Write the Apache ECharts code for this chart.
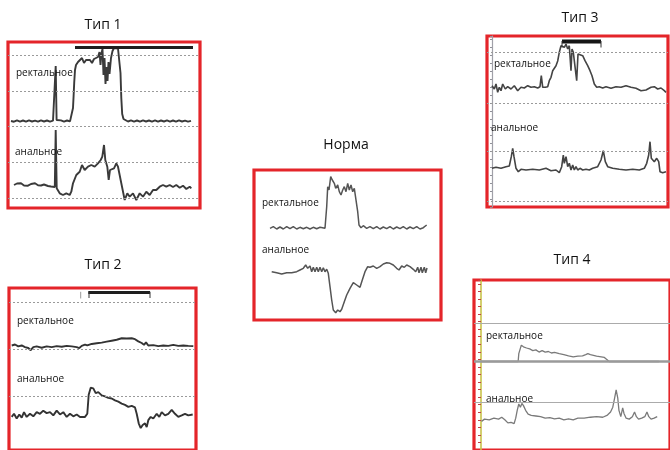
<!DOCTYPE html>
<html>
<head>
<meta charset="utf-8">
<script src="https://cdn.jsdelivr.net/npm/echarts@6/dist/echarts.min.js"></script>
<style>html,body{margin:0;padding:0;background:#fff}#c{width:670px;height:450px}</style>
</head>
<body>
<div id="c"></div>
<script>
// ---------- panel titles and channel labels ----------
const panelTitles = ['Тип 1', 'Тип 3', 'Норма', 'Тип 2', 'Тип 4'];
const channelNames = ['ректальное', 'анальное'];

// ---------- Тип 1 ----------
const tip1Rectal = [[3,87],[6,86.3],[9,87.6],[12,86.4],[15,87.5],[18,86.3],[21,87.6],[24,86.5],[27,87.4],[30,86.3],[33,87.6],[36,86.5],[39,87.5],[42,86.4],[45,87.3],[47,87],[47.7,142],[48.6,88],[50,86.8],[53,87.6],[56,86.4],[59,87.5],[62,86.6],[64,87.2],[65,100],[65.6,112],[66.2,125],[67,138],[68,143],[70,146],[72,147],[74,150],[76,145],[78,148],[80,146],[82,148],[84,145],[86,149],[88,147],[90,151],[91.5,156],[92.5,143],[93.5,155],[94.5,159],[95.5,133],[96.5,150],[97.5,124],[98.5,141],[99.5,127],[100.5,146],[101.5,134],[103,150],[104.5,157],[106,160],[108,161],[110,159.5],[111.5,158],[112.5,135],[113.3,110],[114.2,94],[115.5,89],[117,87.5],[120,86.5],[123,87.6],[126,86.4],[129,87.5],[132,86.3],[135,87.6],[138,86.5],[141,87.5],[144,86.4],[147,87.6],[150,86.3],[153,87.5],[156,86.5],[159,87.6],[162,86.4],[165,87.5],[168,86.3],[171,87.6],[174,86.5],[177,87.4],[180,86.4],[183,87.2]];
const tip1Anal = [[6,23],[9,24.5],[13,24.7],[16,22.5],[20,22.3],[23,24],[27,24.7],[30,22.8],[33,22.5],[36,23.5],[40,22],[43,21.5],[45,20.3],[46.8,21],[47.7,78],[48.7,19.7],[51.7,14.7],[55,13],[58.3,14.7],[61.7,13],[63.3,16.3],[65,24.7],[68.3,33],[71.7,36.3],[74,43],[76.7,38],[80,41.3],[83.3,43],[86.7,41.3],[90,44.7],[92.7,48],[94.3,51.3],[96,63],[97.3,48],[99.3,41.3],[100.7,28],[102,38],[104,36.3],[106,39.7],[108.3,44.7],[110,41.3],[113.3,24.7],[116.7,8],[119.3,14.7],[121.7,11.3],[125,14.7],[128.3,8],[131.7,14.7],[135,11.3],[138.3,16.3],[141.7,13],[145,18],[148.3,18],[151.7,21.3],[155,23],[158.3,21.3],[161.7,23],[165,21],[168.3,23],[171.7,20.3],[175,22.3],[178.3,19],[181.7,21.3],[183.3,19.7]];
const tip1Levels = [153, 117, 82, 46, 10];
const tip1Bar = [[67,160.5],[185,160.5]];

// ---------- Тип 3 ----------
const tip3Rectal = [[5,121.3],[7.3,118],[9,123],[10.7,114.7],[12.3,119.7],[14,116.3],[15.7,123],[18.3,118],[20.7,120.3],[24,118],[27.3,121.3],[30.7,116.3],[34,119.7],[37.3,119],[40.7,121.3],[44,119.7],[47.3,120.3],[50.7,119],[53,120.3],[54.3,131.3],[55.7,119.7],[58.3,119.7],[60.7,120.3],[62.3,126.3],[64,129.7],[65.7,136.3],[67.3,134.7],[69,141.3],[70.7,146],[72.3,154.7],[74,161.3],[75.7,163],[77.3,159.7],[79,163],[80.7,158],[82.3,161.3],[84,136.3],[85,158],[86.3,154.7],[88.3,154.7],[89.7,126.3],[91,153],[93,154.7],[95.7,151.3],[98,146.3],[100.7,141.3],[103,136.3],[105,131.3],[107.3,123],[109.7,119.7],[112.3,120.3],[115.7,119],[119,120.3],[124,118.7],[129,120.3],[134,119.7],[139,121.3],[144,119.7],[149,118.7],[154,116.3],[159,117],[164,119.7],[167.3,120.3],[170.7,118],[174,119],[177.3,116.3],[179,114.7]];
const tip3Anal = [[5,38.7],[9,39.7],[14,38.7],[19,40.3],[22.3,41],[24.3,50.3],[25.7,58.7],[27,50.3],[29,38.7],[31.3,35.3],[34,37.7],[39,37],[45.7,37.7],[52.3,37],[59,38.7],[64,36.3],[69,37],[72.3,34.3],[74.7,40.3],[76.3,52],[77.3,43.7],[79,50.3],[80.7,40.3],[82.3,43.7],[84,37],[85.7,42],[87.3,37],[89,40.3],[90.7,37],[93,38.7],[95.7,37],[99,37.7],[102.3,37],[105.7,38.7],[110.7,40.3],[114,47],[116.3,56.3],[118.3,45.3],[120.7,40.3],[125.7,38.7],[132.3,37.7],[139,37],[145.7,37.7],[152.3,37],[157.3,38.7],[159.7,43.7],[161.7,52],[163,65.3],[164.3,48.7],[165.7,50.3],[167.3,45.3],[169.7,48.7],[171.7,45.3],[173,35.3],[175.7,34.3],[179,35.3]];
const tip3Levels = [154.7, 104, 56, 6];
const tip3Bar = [[75,165.5],[114,165.5]];

// ---------- Норма ----------
const normRectal = [[16,91.7],[19.3,93.3],[22.7,91],[26,93],[29.3,91],[32.7,93.3],[36,91.3],[39.3,93.3],[42.7,91],[46,92.7],[49.3,91.3],[52.7,92.7],[56,91],[59.3,92.7],[62.7,91.3],[66,92.7],[71,91.7],[72.7,113.3],[73.7,133.3],[75,130],[76.7,143.3],[78.3,140],[80.3,136.7],[81.7,131.7],[83.7,135],[85.3,128.3],[87,125],[88.7,130],[90.3,133.3],[92,128.3],[93.7,136.7],[95.3,130],[97,135],[98.7,128.3],[100.3,131.7],[102,130],[103.7,108.3],[105,95],[107,92.3],[109.3,94.3],[112.7,91.7],[116,93.3],[119.3,91.3],[122.7,93.3],[126,91],[129.3,93],[132.7,91.3],[136,93.3],[139.3,91],[142.7,93],[146,91.3],[149.3,93.3],[152.7,91],[156,93],[159.3,91.3],[162.7,93.3],[166,91],[169.3,92.3],[172.7,95]];
const normAnal = [[17.7,48.3],[22.7,47.3],[27.7,46],[32.7,47.3],[37.7,47.3],[42.7,48.3],[46,50],[49.3,51.7],[51.7,55],[53.7,51.7],[56,54],[57.7,48.3],[59.3,52.7],[61,48.3],[62.7,52.7],[64.3,48.3],[66,52.7],[67.7,48.3],[69.3,52.3],[71,48.3],[72.7,50.7],[74.3,46.7],[76,33.3],[77.7,20],[79.3,10],[81.7,7.3],[83.7,10],[86,8.3],[87.7,10.7],[90.3,18.3],[92.7,25],[96,31.7],[99.3,37.3],[102.7,35],[106,32.7],[108.3,40],[111,48.3],[113.7,53.3],[116,52.7],[119.3,54],[122.7,51.7],[126,53.3],[129.3,56],[132.7,57.3],[136,56.7],[139.3,55],[142.7,51.7],[145,50],[147.7,54],[150.3,52.7],[152.7,55],[156,53.3],[159.3,50.7],[161.7,48.3],[163.7,52.7],[165,47.3],[167,52.7],[168.3,47.3],[170.3,52.7],[171.7,47.3],[173,52]];

// ---------- Тип 2 ----------
const tip2Rectal = [[2.7,109.7],[6,110.7],[9.3,108.7],[12.7,109.7],[16,108],[19.3,107],[21.7,104.7],[24.3,108],[27.7,108.7],[32.7,107.3],[37.7,108.7],[42.7,108],[47.7,109],[52.7,108.3],[57.7,109.3],[62.7,108.7],[67.7,108],[70.3,107],[72.7,109.3],[76,110.7],[78.3,109.7],[82.7,111.3],[87.7,112],[92.7,112.7],[97.7,113.7],[102.7,114.7],[107.7,115.7],[112.7,117.3],[117.7,117],[122.7,117.3],[126,116.3],[129.3,114],[132.7,112.3],[135,110.3],[137,113],[139.3,109.7],[144.3,110],[149.3,109],[154.3,109.7],[159.3,109.3],[164.3,110.3],[169.3,109.3],[174.3,109.7],[179.3,109.3],[184.3,109]];
const tip2Anal = [[2.7,34.7],[5,38],[7.7,33],[10.3,37.3],[12.7,34],[15,39.7],[17.7,34.7],[21,38],[24.3,35.3],[27.7,39.7],[31,38],[34.3,41.3],[37.7,38.7],[41,39.7],[44.3,36.3],[47.7,41.3],[51,37.3],[54.3,39.7],[57.7,34.7],[61,38],[64.3,35.3],[67.7,37.3],[71,34.7],[76,34.7],[78.3,38],[79.7,58],[81.7,65.3],[84.3,64.7],[86.7,59.7],[89.3,60.7],[92.7,57.3],[96,56.3],[99.3,54.7],[102.7,54],[106,52],[109.3,50.7],[112.7,48.7],[116,47.3],[119.3,45.3],[122.7,46.3],[126,44.7],[127.7,38],[129.7,28],[131.7,23],[133.7,26.3],[136,28],[137.7,24],[139.3,31.3],[141.7,34.7],[144.3,33],[147.7,38],[150.3,34.7],[152.7,39.7],[156,36.3],[159.3,38],[162.7,42],[166,38],[169.3,34.7],[172.7,36.3],[176,38],[179.3,36.3],[183.7,37.3]];
const tip2Levels = [155.3, 105.3, 56.3];
const tip2Bar = [[79.3,165.3],[141,165.3]];

// ---------- Тип 4 ----------
const tip4Rectal = [[8,93.7],[20,93.7],[35,93.7],[47.3,93.7],[48,102],[50.7,111],[53,109.3],[56.3,108],[59.7,107],[63,105.3],[66.3,106],[69.7,103.7],[73,105.3],[76.3,103.7],[79.7,104.3],[83,102.7],[86.3,103.3],[91.3,102],[96.3,101],[101.3,99.7],[106.3,98.7],[111.3,99.3],[116.3,99.7],[119.7,101],[122,102],[124.7,101],[128,100.3],[131.3,99.3],[136.3,98.7],[139.7,98],[142,96],[144.7,93.7],[170,93.7],[198,93.7]];
const tip4Anal = [[8,30.3],[11.3,32.7],[16.3,32],[21.3,33.7],[26.3,32.7],[29.7,34.7],[33,32],[36.3,28.7],[39.7,29.3],[43,28],[44.7,33.7],[46.3,42],[48,48.7],[49.7,45.3],[51.3,49.3],[53,47],[55.3,42],[58,38],[61.3,36.7],[66.3,36],[71.3,35.3],[76.3,33.7],[81.3,34.3],[86.3,33],[91.3,33.7],[96.3,32],[101.3,33],[106.3,32],[111.3,33.7],[118,33.7],[124.7,34.7],[131.3,35.3],[138,34.7],[143,37],[146.3,40.3],[148.7,45.3],[150.7,55.3],[152.3,63.7],[154,55.3],[155.3,42],[157.3,35.3],[159.3,44.7],[160.7,38.7],[163,33.7],[166.3,32.7],[169.7,35.3],[172,40.3],[174,35.3],[176.3,32.7],[179.7,33.7],[183,35.3],[185.3,40.3],[187.3,35.3],[189.7,32.7],[193,33.7],[196.3,35.3]];
const tip4Levels = [133.7, 50.3];
const tip4Baseline = [93.7];

// ---------- layout ----------
const RED = '#e4252a';
const grids = [
  {left: 8,   top: 42,  width: 192, height: 166},  // Тип 1
  {left: 487, top: 36,  width: 181, height: 171},  // Тип 3
  {left: 254, top: 170, width: 187, height: 150},  // Норма
  {left: 9,   top: 288, width: 187, height: 170},  // Тип 2
  {left: 474, top: 280, width: 210, height: 180}   // Тип 4
];
const gridOpts = grids.map(g => Object.assign({show: true, borderColor: RED, borderWidth: 3.2, backgroundColor: '#fff'}, g));

const xAxes = grids.map((g, i) => ({type: 'value', gridIndex: i, min: 0, max: g.width, show: false}));
const yAxes = grids.map((g, i) => ({type: 'value', gridIndex: i, min: 0, max: g.height, show: false, splitLine: {show: false}}));
// panel-side scales for Тип 3 and Тип 4
Object.assign(yAxes[1], {show: true, interval: 8, offset: -5,
  axisLine: {show: true, lineStyle: {color: '#a0a0a8', width: 1.2}},
  axisTick: {show: true, length: 2, inside: false, lineStyle: {color: '#909098'}},
  axisLabel: {show: false}, splitLine: {show: false}});
Object.assign(yAxes[4], {show: true, interval: 8, offset: -7,
  axisLine: {show: true, lineStyle: {color: '#c9c24a', width: 1.6}},
  axisTick: {show: true, length: 3, inside: false, lineStyle: {color: '#c0404a', width: 1}},
  axisLabel: {show: false}, splitLine: {show: false}});

function trace(gi, data, color, width, marks) {
  const s = {type: 'line', xAxisIndex: gi, yAxisIndex: gi, data: data, symbol: 'none',
    lineStyle: {color: color, width: width}, silent: true, z: 3};
  if (marks) s.markLine = marks;
  return s;
}
function levelLines(vals, style) {
  return {silent: true, symbol: 'none', label: {show: false}, animation: false,
    lineStyle: style, data: vals.map(v => ({yAxis: v}))};
}
const dotted = {type: [2, 2], color: '#9a9a9a', width: 1};

const series = [
  // Тип 1
  trace(0, tip1Rectal, '#3a3a3a', 1.9, levelLines(tip1Levels, dotted)),
  trace(0, tip1Anal, '#3a3a3a', 1.9),
  trace(0, tip1Bar, '#1e1e1e', 3),
  // Тип 3
  trace(1, tip3Rectal, '#444', 1.6, levelLines(tip3Levels, dotted)),
  trace(1, tip3Anal, '#444', 1.6),
  trace(1, tip3Bar, '#151515', 4),
  trace(1, [[75,159.5],[75,166]], '#333', 1),
  trace(1, [[114,159.5],[114,166]], '#333', 1),
  // Норма
  trace(2, normRectal, '#555', 1.5),
  trace(2, normAnal, '#555', 1.5),
  // Тип 2
  trace(3, tip2Rectal, '#333', 1.9, levelLines(tip2Levels, dotted)),
  trace(3, tip2Anal, '#333', 1.9),
  trace(3, tip2Bar, '#1e1e1e', 3),
  trace(3, [[80,159.5],[80,166]], '#333', 1),
  trace(3, [[141,159.5],[141,166]], '#333', 1),
  trace(3, [[71.7,159],[71.7,166]], '#999', 1),
  // Тип 4
  trace(4, tip4Rectal, '#7a7a7a', 1.3, levelLines(tip4Levels, {type: 'solid', color: '#ababab', width: 1})),
  trace(4, tip4Anal, '#7a7a7a', 1.3, levelLines(tip4Baseline, {type: 'solid', color: '#9a9a9a', width: 2.6}))
];

// text positions (pixels)
const titlePos = [[103, 25], [580, 18], [346, 145], [103, 265], [572, 260]];
const labelPos = [
  [[16, 73], [15, 152]],
  [[494, 64], [491, 128]],
  [[262, 203], [262, 250]],
  [[17, 321], [17, 379]],
  [[486, 336], [486, 399]]
];
const graphics = [];
panelTitles.forEach((t, i) => {
  graphics.push({type: 'text', x: titlePos[i][0], y: titlePos[i][1], z: 10,
    style: {text: t, fill: '#111', font: '14px "Open Sans", sans-serif', textAlign: 'center', textVerticalAlign: 'middle'}});
  labelPos[i].forEach((p, k) => {
    graphics.push({type: 'text', x: p[0], y: p[1], z: 10,
      style: {text: channelNames[k], fill: '#111', font: '10px "Open Sans", sans-serif', textAlign: 'left', textVerticalAlign: 'middle'}});
  });
});

const chart = echarts.init(document.getElementById('c'), null, {renderer: 'canvas'});
chart.setOption({
  animation: false,
  backgroundColor: '#fff',
  grid: gridOpts,
  xAxis: xAxes,
  yAxis: yAxes,
  series: series,
  graphic: graphics
});
</script>
</body>
</html>
